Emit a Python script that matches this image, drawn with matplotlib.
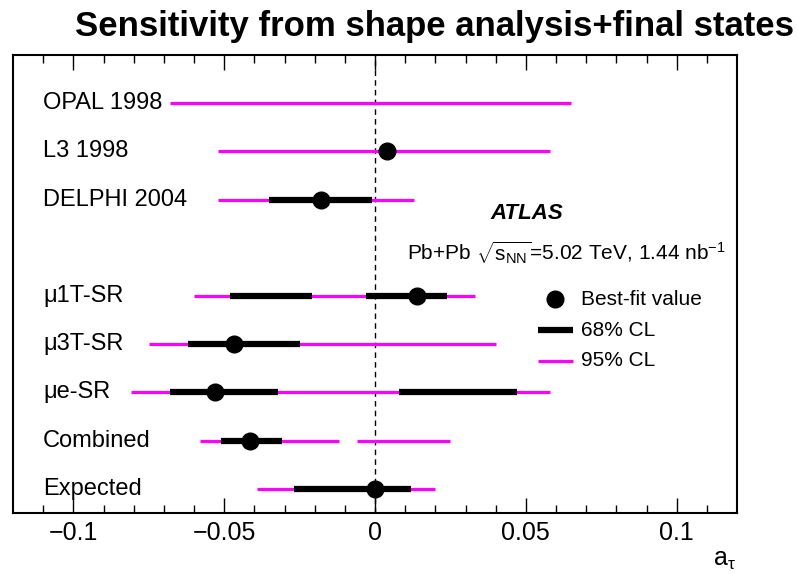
import matplotlib
matplotlib.use("Agg")
import matplotlib.pyplot as plt

plt.rcParams['font.family'] = ['Liberation Sans', 'DejaVu Sans']
plt.rcParams['mathtext.fontset'] = 'custom'
plt.rcParams['mathtext.rm'] = 'Liberation Sans'
plt.rcParams['mathtext.it'] = 'Liberation Sans:italic'

# rows from top to bottom
labels = ["OPAL 1998", "L3 1998", "DELPHI 2004", "\u03bc1T-SR", "\u03bc3T-SR",
          "\u03bce-SR", "Combined", "Expected"]
rows = [8, 7, 6, 4, 3, 2, 1, 0]

best = [None, 0.004, -0.018, 0.014, -0.0466, -0.053, -0.0416, 0.0]

# 95% CL intervals (can be split in two)
cl95 = [
    [(-0.068, 0.065)],
    [(-0.052, 0.058)],
    [(-0.052, 0.013)],
    [(-0.060, 0.033)],
    [(-0.075, 0.040)],
    [(-0.081, 0.058)],
    [(-0.058, -0.012), (-0.006, 0.025)],
    [(-0.039, 0.020)],
]

# 68% CL intervals
cl68 = [
    [],
    [],
    [(-0.035, -0.001)],
    [(-0.048, -0.021), (-0.003, 0.024)],
    [(-0.062, -0.025)],
    [(-0.068, -0.032), (0.008, 0.047)],
    [(-0.051, -0.031)],
    [(-0.027, 0.012)],
]

magenta = '#ff00ff'

fig = plt.figure(figsize=(7.98, 5.74), dpi=100)
ax = fig.add_axes([0.0163, 0.1063, 0.9073, 0.7979])

for i, y in enumerate(rows):
    for lo, hi in cl95[i]:
        ax.plot([lo, hi], [y, y], color=magenta, lw=2.3, solid_capstyle='butt', zorder=2)
    for lo, hi in cl68[i]:
        ax.plot([lo, hi], [y, y], color='black', lw=4.5, solid_capstyle='butt', zorder=3)
    if best[i] is not None:
        ax.plot(best[i], y, 'o', color='black', ms=12, zorder=4)
    ax.text(-0.11, y, labels[i], fontsize=17, ha='left', va='center')

ax.axvline(0, color='black', lw=1, ls=(0, (4, 3)), zorder=1)

ax.set_xlim(-0.12, 0.12)
ax.set_ylim(-0.5, 9.0)
ax.set_yticks([])
ax.set_xticks([-0.1, -0.05, 0, 0.05, 0.1])
ax.set_xticklabels(['\u22120.1', '\u22120.05', '0', '0.05', '0.1'], fontsize=18)
ax.set_xticks([x / 100 for x in range(-11, 12)], minor=True)
ax.tick_params(axis='x', which='both', direction='in', top=True, bottom=True, pad=6)
ax.tick_params(axis='x', which='major', length=11, width=1)
ax.tick_params(axis='x', which='minor', length=6, width=1)
for s in ax.spines.values():
    s.set_linewidth(1.5)

fig.text(736 / 798, 1 - 566 / 574, r'a$_{\mathrm{τ}}$', fontsize=18, ha='right', va='baseline')

# ATLAS label and info
ax.text(0.0503, 5.71, 'ATLAS', fontsize=16, fontweight='bold', fontstyle='italic',
        ha='center', va='center')
ax.text(0.0106, 4.9, r'Pb+Pb $\sqrt{\mathrm{s}_{\mathrm{NN}}}$=5.02 TeV, 1.44 nb$^{\mathrm{-1}}$',
        fontsize=15, ha='left', va='center')

# legend drawn by hand
ax.plot(0.0598, 3.93, 'o', color='black', ms=12)
ax.plot([0.0539, 0.0657], [3.29, 3.29], color='black', lw=4.5, solid_capstyle='butt')
ax.plot([0.0539, 0.0657], [2.66, 2.66], color=magenta, lw=2.3, solid_capstyle='butt')
ax.text(0.0682, 3.93, 'Best-fit value', fontsize=15, va='center')
ax.text(0.0682, 3.29, '68% CL', fontsize=15, va='center')
ax.text(0.0682, 2.66, '95% CL', fontsize=15, va='center')

fig.text(0.545, 0.937, 'Sensitivity from shape analysis+final states',
         fontsize=25, fontweight='bold', ha='center', va='baseline')

fig.savefig('out.png', dpi=100)
